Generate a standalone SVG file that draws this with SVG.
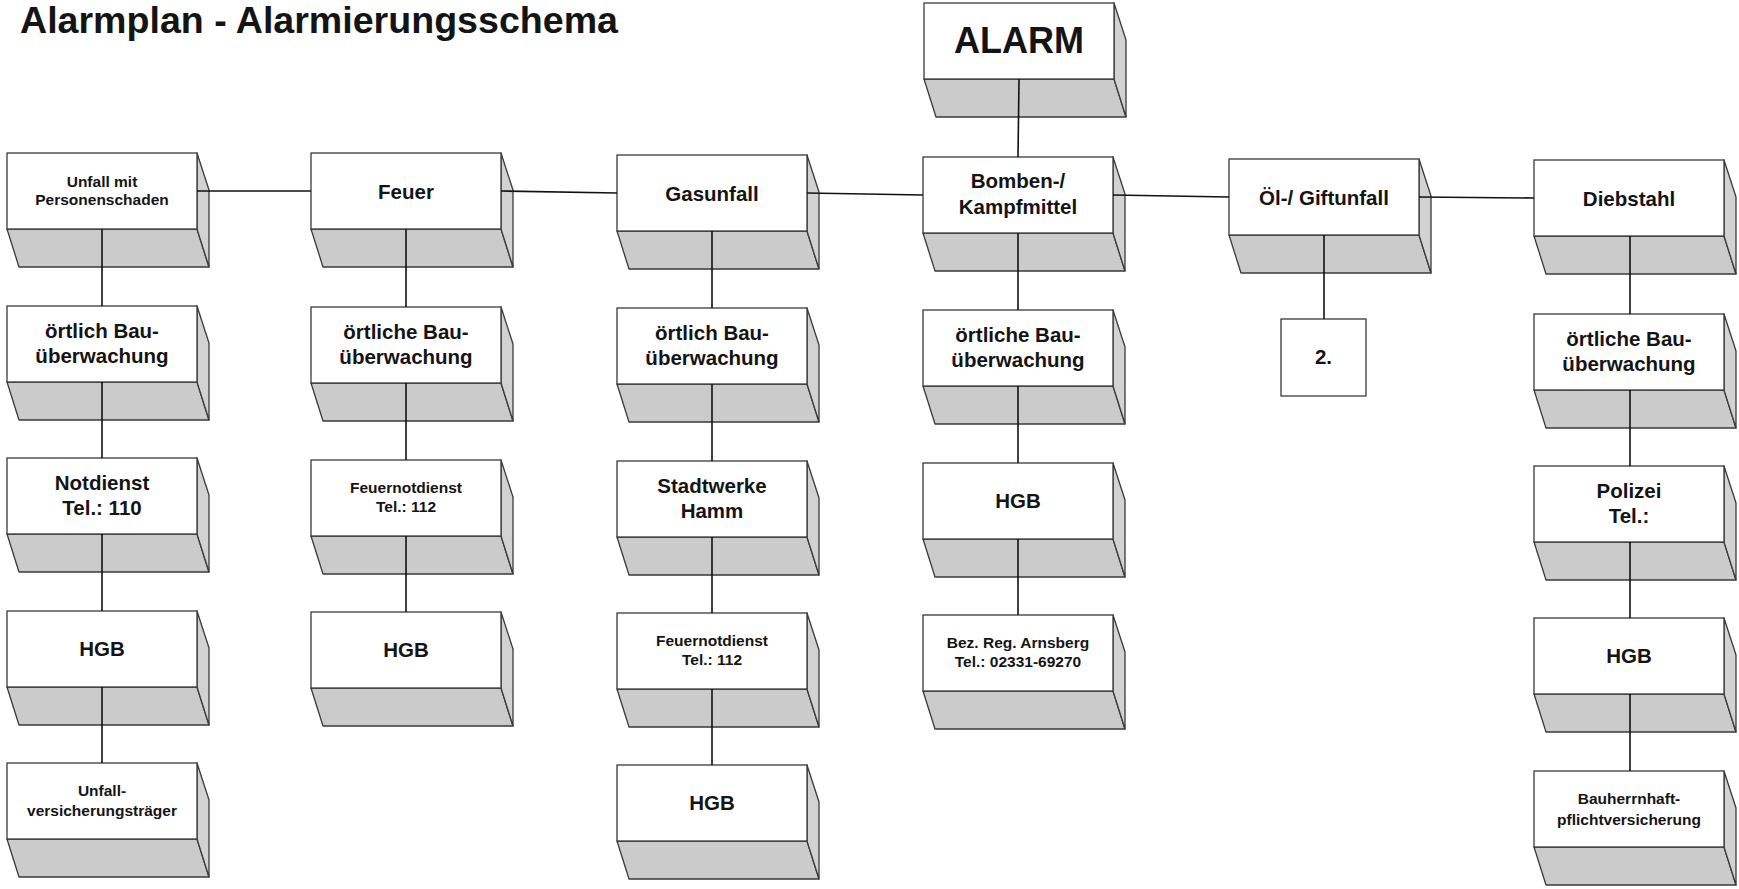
<svg xmlns="http://www.w3.org/2000/svg" xmlns:xlink="http://www.w3.org/1999/xlink" width="1739" height="889" viewBox="0 0 1739 889">
<style>
text{font-family:"Liberation Sans",Arial,sans-serif;font-weight:bold;fill:#141414;text-anchor:middle}
.t{font-size:37.6px;text-anchor:start}
.a{font-size:36px}
.m{font-size:20.5px}
.s{font-size:15.5px}
.front{fill:#fff;stroke:#3a3a3a;stroke-width:1.3}
.face{fill:#cbcbcb;stroke:#3a3a3a;stroke-width:1.3;stroke-linejoin:round}
.side{fill:#d2d2d2;stroke:#3a3a3a;stroke-width:1.3;stroke-linejoin:round}
.plain{fill:#fff;stroke:#3a3a3a;stroke-width:1.3}
.c line{stroke:#111;stroke-width:1.6}
</style>
<defs>
<g id="box">
<polygon class="face" points="0,76 190,76 202,114 12,114"/>
<polygon class="side" points="190,0 202,37 202,114 190,76"/>
<rect class="front" x="0" y="0" width="190" height="76"/>
</g>
</defs>
<rect width="1739" height="889" fill="#fff"/>
<text class="t" x="20" y="33">Alarmplan - Alarmierungsschema</text>

<g id="n-alarm" transform="translate(924,3)"><use xlink:href="#box"/><text class="a" x="95" y="50">ALARM</text></g>

<g id="n-unfall" transform="translate(7,153)"><use xlink:href="#box"/><text class="s" x="95" y="34">Unfall mit</text><text class="s" x="95" y="52">Personenschaden</text></g>
<g id="n-unfall-bau" transform="translate(7,306)"><use xlink:href="#box"/><text class="m" x="95" y="32">örtlich Bau-</text><text class="m" x="95" y="57">überwachung</text></g>
<g id="n-unfall-notdienst" transform="translate(7,458)"><use xlink:href="#box"/><text class="m" x="95" y="32">Notdienst</text><text class="m" x="95" y="57">Tel.: 110</text></g>
<g id="n-unfall-hgb" transform="translate(7,611)"><use xlink:href="#box"/><text class="m" x="95" y="45">HGB</text></g>
<g id="n-unfall-vers" transform="translate(7,763)"><use xlink:href="#box"/><text class="s" x="95" y="33">Unfall-</text><text class="s" x="95" y="53">versicherungsträger</text></g>

<g id="n-feuer" transform="translate(311,153)"><use xlink:href="#box"/><text class="m" x="95" y="46">Feuer</text></g>
<g id="n-feuer-bau" transform="translate(311,307)"><use xlink:href="#box"/><text class="m" x="95" y="32">örtliche Bau-</text><text class="m" x="95" y="57">überwachung</text></g>
<g id="n-feuer-notdienst" transform="translate(311,460)"><use xlink:href="#box"/><text class="s" x="95" y="33">Feuernotdienst</text><text class="s" x="95" y="52">Tel.: 112</text></g>
<g id="n-feuer-hgb" transform="translate(311,612)"><use xlink:href="#box"/><text class="m" x="95" y="45">HGB</text></g>

<g id="n-gas" transform="translate(617,155)"><use xlink:href="#box"/><text class="m" x="95" y="46">Gasunfall</text></g>
<g id="n-gas-bau" transform="translate(617,308)"><use xlink:href="#box"/><text class="m" x="95" y="32">örtlich Bau-</text><text class="m" x="95" y="57">überwachung</text></g>
<g id="n-gas-stadtwerke" transform="translate(617,461)"><use xlink:href="#box"/><text class="m" x="95" y="32">Stadtwerke</text><text class="m" x="95" y="57">Hamm</text></g>
<g id="n-gas-notdienst" transform="translate(617,613)"><use xlink:href="#box"/><text class="s" x="95" y="33">Feuernotdienst</text><text class="s" x="95" y="52">Tel.: 112</text></g>
<g id="n-gas-hgb" transform="translate(617,765)"><use xlink:href="#box"/><text class="m" x="95" y="45">HGB</text></g>

<g id="n-bomben" transform="translate(923,157)"><use xlink:href="#box"/><text class="m" x="95" y="31">Bomben-/</text><text class="m" x="95" y="57">Kampfmittel</text></g>
<g id="n-bomben-bau" transform="translate(923,310)"><use xlink:href="#box"/><text class="m" x="95" y="32">örtliche Bau-</text><text class="m" x="95" y="57">überwachung</text></g>
<g id="n-bomben-hgb" transform="translate(923,463)"><use xlink:href="#box"/><text class="m" x="95" y="45">HGB</text></g>
<g id="n-bomben-bezreg" transform="translate(923,615)"><use xlink:href="#box"/><text class="s" x="95" y="33">Bez. Reg. Arnsberg</text><text class="s" x="95" y="52">Tel.: 02331-69270</text></g>

<g id="n-oel" transform="translate(1229,159)"><use xlink:href="#box"/><text class="m" x="95" y="46">Öl-/ Giftunfall</text></g>
<g id="n-oel-2" transform="translate(1281,319)"><rect class="plain" x="0" y="0" width="85" height="77"/><text class="m" x="42.5" y="45">2.</text></g>

<g id="n-dieb" transform="translate(1534,160)"><use xlink:href="#box"/><text class="m" x="95" y="46">Diebstahl</text></g>
<g id="n-dieb-bau" transform="translate(1534,314)"><use xlink:href="#box"/><text class="m" x="95" y="32">örtliche Bau-</text><text class="m" x="95" y="57">überwachung</text></g>
<g id="n-dieb-polizei" transform="translate(1534,466)"><use xlink:href="#box"/><text class="m" x="95" y="32">Polizei</text><text class="m" x="95" y="57">Tel.:</text></g>
<g id="n-dieb-hgb" transform="translate(1534,618)"><use xlink:href="#box"/><text class="m" x="95" y="45">HGB</text></g>
<g id="n-dieb-bauherrn" transform="translate(1534,771)"><use xlink:href="#box"/><text class="s" x="95" y="33">Bauherrnhaft-</text><text class="s" x="95" y="54">pflichtversicherung</text></g>

<g id="connectors" class="c">
<line x1="1019" y1="79" x2="1018" y2="157"/>
<line x1="197" y1="191" x2="311" y2="191"/>
<line x1="501" y1="191" x2="617" y2="193"/>
<line x1="807" y1="193" x2="923" y2="195"/>
<line x1="1113" y1="195" x2="1229" y2="197"/>
<line x1="1419" y1="197" x2="1534" y2="198"/>
<line x1="102" y1="229" x2="102" y2="306"/>
<line x1="102" y1="382" x2="102" y2="458"/>
<line x1="102" y1="534" x2="102" y2="611"/>
<line x1="102" y1="687" x2="102" y2="763"/>
<line x1="406" y1="229" x2="406" y2="307"/>
<line x1="406" y1="383" x2="406" y2="460"/>
<line x1="406" y1="536" x2="406" y2="612"/>
<line x1="712" y1="231" x2="712" y2="308"/>
<line x1="712" y1="384" x2="712" y2="461"/>
<line x1="712" y1="537" x2="712" y2="613"/>
<line x1="712" y1="689" x2="712" y2="765"/>
<line x1="1018" y1="233" x2="1018" y2="310"/>
<line x1="1018" y1="386" x2="1018" y2="463"/>
<line x1="1018" y1="539" x2="1018" y2="615"/>
<line x1="1324" y1="235" x2="1324" y2="319"/>
<line x1="1630" y1="236" x2="1630" y2="314"/>
<line x1="1630" y1="390" x2="1630" y2="466"/>
<line x1="1630" y1="542" x2="1630" y2="618"/>
<line x1="1630" y1="694" x2="1630" y2="771"/>
</g>
</svg>
